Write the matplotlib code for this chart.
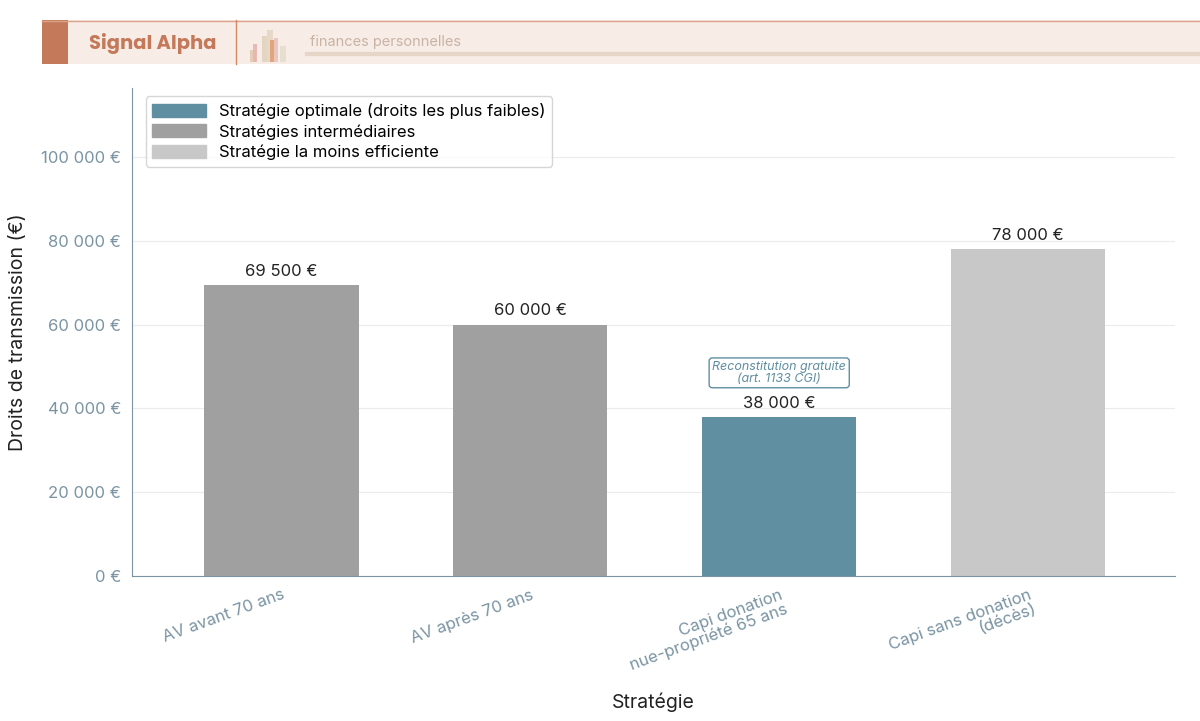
import matplotlib
matplotlib.use("Agg")
import matplotlib.pyplot as plt
from matplotlib.patches import Rectangle, Patch
from matplotlib.lines import Line2D

categories = ["AV avant 70 ans", "AV après 70 ans",
              "Capi donation\nnue-propriété 65 ans", "Capi sans donation\n(décès)"]
values = [69500, 60000, 38000, 78000]
value_labels = ["69 500 €", "60 000 €", "38 000 €", "78 000 €"]
kinds = ["mid", "mid", "best", "worst"]
yticks = [0, 20000, 40000, 60000, 80000, 100000]
ytick_labels = ["0 €", "20 000 €", "40 000 €", "60 000 €", "80 000 €", "100 000 €"]

colors = {"best": "#5f8fa1", "mid": "#a0a0a0", "worst": "#c8c8c8"}
tick_col = "#7a94a3"

plt.rcParams["font.family"] = ["Inter", "DejaVu Sans"]
fig = plt.figure(figsize=(12, 7.21), dpi=100)
W, H = 1200, 721
ax = fig.add_axes([132 / W, 1 - 576 / H, (1175 - 132) / W, (576 - 88) / H])

x = range(len(categories))
ax.bar(x, values, width=0.62, color=[colors[k] for k in kinds], zorder=2)
for i, (v, lab) in enumerate(zip(values, value_labels)):
    ax.text(i, v + 1500, lab, ha="center", va="bottom", fontsize=12, color="#222222")
ax.text(2, 48500, "Reconstitution gratuite\n(art. 1133 CGI)", ha="center", va="center",
        fontsize=9, style="italic", color="#5f8fa1", linespacing=0.95,
        bbox=dict(boxstyle="round,pad=0.25", fc="white", ec="#5f8fa1", lw=1))

ax.set_xlim(-0.6, 3.59)
ax.set_ylim(0, 116500)
ax.set_yticks(yticks)
ax.set_yticklabels(ytick_labels, fontsize=12, color=tick_col)
ax.set_xticks(list(x))
ax.set_xticklabels(categories, fontsize=12, color=tick_col, rotation=20,
                   ha="right", rotation_mode="anchor", linespacing=1.0)
ax.tick_params(length=0, pad=8)
ax.grid(axis="y", color="#ebebeb", lw=0.8, zorder=0)
for s in ["top", "right"]:
    ax.spines[s].set_visible(False)
for s in ["left", "bottom"]:
    ax.spines[s].set_color("#7a94a3")
ax.set_ylabel("Droits de transmission (€)", fontsize=14, color="#222222", labelpad=10)
ax.set_xlabel("Stratégie", fontsize=14, color="#222222", labelpad=14)

handles = [Patch(color=colors["best"]), Patch(color=colors["mid"]), Patch(color=colors["worst"])]
ax.legend(handles, ["Stratégie optimale (droits les plus faibles)", "Stratégies intermédiaires",
                    "Stratégie la moins efficiente"],
          loc="upper left", bbox_to_anchor=(0.005, 1.0), fontsize=12, frameon=True,
          edgecolor="#cccccc", fancybox=True, handlelength=3.2, handleheight=0.8,
          labelspacing=0.3, borderpad=0.4)

# header band
hdr = fig.add_axes([0, 0, 1, 1], zorder=-1)
hdr.set_xlim(0, W)
hdr.set_ylim(H, 0)
hdr.axis("off")
hdr.add_patch(Rectangle((42, 20), W - 42, 44, fc="#f7ece6", ec="none"))
hdr.plot([42, W], [20.5, 20.5], color="#d9a48a", lw=1)
hdr.add_patch(Rectangle((42, 20), 26, 44, fc="#c47a5a", ec="none"))
hdr.plot([236, 236], [20, 64], color="#d08a6a", lw=1)
hdr.text(89, 43, "Signal Alpha", fontsize=14, fontweight="bold", color="#c47a5a",
         va="center", family=["Poppins", "Lato", "DejaVu Sans"])
bars_deco = [(250, 50, 6, "#e4c9b0"), (253, 44, 4, "#e7b5b0"), (262, 36, 5, "#e2d3c0"),
             (267, 30, 6, "#e6d6c5"), (270, 40, 4, "#e0a070"), (274, 38, 4, "#e8c2bd"),
             (280, 46, 6, "#e6ddd0")]
for bx, by, bw, bc in bars_deco:
    hdr.add_patch(Rectangle((bx, by), bw, 62 - by, fc=bc, ec="none", alpha=0.9))
hdr.text(310, 42, "finances personnelles", fontsize=10.5, color="#c9b3a5", va="center")
hdr.plot([307, W], [54, 54], color="#e6d6c8", lw=3)

fig.savefig("out.png", dpi=100)
